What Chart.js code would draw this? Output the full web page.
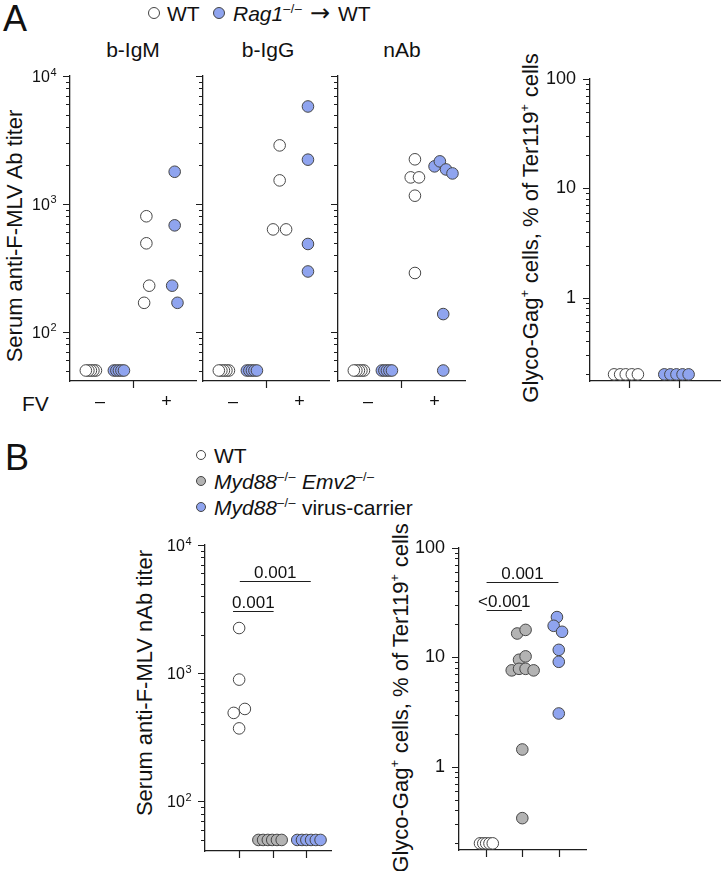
<!DOCTYPE html>
<html lang="en">
<head>
<meta charset="UTF-8">
<title>Anti-F-MLV antibody titres and Glyco-Gag+ cells</title>
<script src="https://cdn.jsdelivr.net/npm/chart.js"></script>
<style>
  body { margin:0; width:721px; height:871px; overflow:hidden; background:#fff; position:relative;
         font-family:"Liberation Sans", Arial, Helvetica, sans-serif; color:#111; }
  canvas { position:absolute; }
  .t { position:absolute; line-height:1; white-space:nowrap; font-size:21px; }
  .c { transform:translateX(-50%); }
  .rot { position:absolute; line-height:1; white-space:nowrap; font-size:22px;
         transform:translate(-50%,-50%) rotate(-90deg); }
  sup { font-size:0.6em; line-height:0; vertical-align:0.65em; letter-spacing:0.5px; }
  .arrow { font-family:"DejaVu Sans", sans-serif; font-size:24px; line-height:0; margin:0 2px; }
  .dot { position:absolute; border-radius:50%; border:1px solid #444; box-sizing:border-box; }
</style>
</head>
<body>

<div class="t" style="left:3px;top:1px;font-size:36px">A</div>
<div class="t" style="left:5px;top:440px;font-size:36px">B</div>

<!-- legend A -->
<div class="dot" style="left:148px;top:7px;width:12px;height:12px;background:#fff"></div>
<div class="t" style="left:167px;top:3px">WT</div>
<div class="dot" style="left:213px;top:7px;width:12px;height:12px;background:#8fa4ef"></div>
<div class="t" style="left:233px;top:3px"><i>Rag1</i><sup>–/–</sup> <span class="arrow">→</span> WT</div>

<div class="t c" style="left:133px;top:39px">b-IgM</div>
<div class="t c" style="left:268px;top:39px">b-IgG</div>
<div class="t c" style="left:402px;top:39px">nAb</div>
<div class="t" style="left:22px;top:393px">FV</div>

<div class="rot" style="left:15px;top:236px">Serum anti-F-MLV Ab titer</div>
<div class="rot" style="left:531px;top:228px">Glyco-Gag<sup>+</sup> cells, % of Ter119<sup>+</sup> cells</div>

<!-- legend B -->
<div class="dot" style="left:196px;top:450px;width:10px;height:10px;background:#fff"></div>
<div class="t" style="left:214px;top:445px">WT</div>
<div class="dot" style="left:196px;top:476px;width:10px;height:10px;background:#b3b3b3"></div>
<div class="t" style="left:214px;top:471px"><i>Myd88</i><sup>–/–</sup> <i>Emv2</i><sup>–/–</sup></div>
<div class="dot" style="left:196px;top:502px;width:10px;height:10px;background:#8fa4ef"></div>
<div class="t" style="left:214px;top:497px"><i>Myd88</i><sup>–/–</sup> virus-carrier</div>

<div class="rot" style="left:145px;top:683px">Serum anti-F-MLV nAb titer</div>
<div class="rot" style="left:401px;top:698px">Glyco-Gag<sup>+</sup> cells, % of Ter119<sup>+</sup> cells</div>

<canvas id="a1"></canvas>
<canvas id="a2"></canvas>
<canvas id="a3"></canvas>
<canvas id="a4"></canvas>
<canvas id="b1"></canvas>
<canvas id="b2"></canvas>

<script>
const FONT = '"Liberation Sans", Arial, Helvetica, sans-serif';
const WHITE = '#ffffff', BLUE = '#8fa4ef', GRAY = '#b3b3b3', EDGE = '#464646', AXIS = '#1e1e1e';

// axis ticks / labels
const titerTicks = [100, 1000, 10000];
const titerExps = ['2', '3', '4'];   // drawn as 10^n
const pctTicks = [1, 10, 100];
const pctLabels = ['1', '10', '100'];
const fvLabelPos = [1.33, 3.7];
const fvLabels = ['–', '+'];

// Panel A groups: 1 = WT FV–, 2 = Rag1 FV–, 3 = WT FV+, 4 = Rag1 FV+
// jitter = horizontal offset of each dot from its group centre
const negWtJit = [0.18, 0.09, 0, -0.09, -0.18];
const negRagJit = [-0.18, -0.09, 0, 0.09, 0.18];

// b-IgM
const igmWtNeg = [50, 50, 50, 50, 50];
const igmRagNeg = [50, 50, 50, 50, 50];
const igmWtPos = [802, 493, 230, 169];
const igmWtPosJit = [-0.02, -0.02, 0.08, -0.1];
const igmRagPos = [1786, 681, 230, 169];
const igmRagPosJit = [-0.01, -0.01, -0.1, 0.09];

// b-IgG
const iggWtNeg = [50, 50, 50, 50, 50];
const iggRagNeg = [50, 50, 50, 50, 50];
const iggWtPos = [2870, 1529, 633, 633];
const iggWtPosJit = [-0.01, -0.01, -0.245, 0.22];
const iggRagPos = [5780, 2220, 487, 297];
const iggRagPosJit = [0, 0, 0, 0];

// nAb
const nabWtNeg = [50, 50, 50, 50, 50];
const nabRagNeg = [50, 50, 50, 50, 50];
const nabWtPos = [2234, 1614, 1614, 1161, 289];
const nabWtPosJit = [0, -0.15, 0.145, 0, 0];
const nabRagPos = [1968, 2153, 1862, 1733, 138, 50];
const nabRagPosJit = [-0.3, -0.11, 0.11, 0.34, 0.01, 0.01];

// Glyco-Gag+ (panel A), groups 1 = WT, 2 = Rag1
const glyWt = [0.2, 0.2, 0.2, 0.2, 0.2];
const glyWtJit = [-0.29, -0.17, -0.06, 0.06, 0.18];
const glyRag = [0.2, 0.2, 0.2, 0.2, 0.2];
const glyRagJit = [-0.3, -0.18, -0.06, 0.06, 0.18];

// Panel B groups: 1 = WT, 2 = Myd88 Emv2, 3 = Myd88 virus-carrier
const bNabWt = [2250, 891, 526, 490, 371];
const bNabWtJit = [0.01, 0.01, 0.18, -0.15, 0.01];
const bNabEmv = [50, 50, 50, 50, 50, 50];
const bNabEmvJit = [-0.42, -0.28, -0.14, -0.01, 0.13, 0.27];
const bNabCar = [50, 50, 50, 50, 50, 50];
const bNabCarJit = [-0.27, -0.13, 0, 0.14, 0.28, 0.42];
const bNabP = [
  { from: 0.83, to: 2.03, y: 3050, text: '0.001' },
  { from: 1.03, to: 3.13, y: 5260, text: '0.001' }
];

const bGlyWt = [0.2, 0.2, 0.2, 0.2, 0.2];
const bGlyWtJit = [-0.16, -0.07, 0.01, 0.1, 0.19];
const bGlyEmv = [16.5, 17.8, 9.5, 10.2, 7.6, 7.85, 7.85, 7.6, 1.44, 0.34];
const bGlyEmvJit = [-0.14, 0.09, -0.09, 0.09, -0.29, -0.09, 0.09, 0.31, 0, 0];
const bGlyCar = [23.3, 19.4, 17.1, 11.7, 9.1, 3.07];
const bGlyCarJit = [-0.05, -0.14, 0.09, 0, 0, 0];
const bGlyP = [
  { from: 1.02, to: 1.99, y: 26.8, text: '<0.001' },
  { from: 1.02, to: 2.99, y: 48.7, text: '0.001' }
];

// tick marks (major / minor log ticks, x ticks), 10^n labels and p-value brackets
const axisMarks = {
  id: 'axisMarks',
  afterDraw(chart, args, opts) {
    const { ctx } = chart;
    const x = chart.scales.x, y = chart.scales.y;
    const left = chart.chartArea.left, bottom = chart.chartArea.bottom;
    ctx.save();
    ctx.strokeStyle = AXIS;
    ctx.lineWidth = 1.2;
    ctx.beginPath();
    for (let d = Math.floor(Math.log10(y.min)); d <= Math.ceil(Math.log10(y.max)); d++) {
      for (let m = 1; m <= 9; m++) {
        const v = m * Math.pow(10, d);
        if (v < y.min * 0.999 || v > y.max * 1.001) continue;
        const py = Math.round(y.getPixelForValue(v)) + 0.5;
        ctx.moveTo(left, py);
        ctx.lineTo(left - (m === 1 ? 7 : 4), py);
      }
    }
    (opts.xTicks || []).forEach(v => {
      const px = Math.round(x.getPixelForValue(v)) + 0.5;
      ctx.moveTo(px, bottom);
      ctx.lineTo(px, bottom + 7);
    });
    ctx.stroke();

    ctx.fillStyle = '#111';
    ctx.textBaseline = 'alphabetic';

    // power-of-ten labels with a real superscript
    if (opts.powers) {
      ctx.textAlign = 'left';
      opts.powers.ticks.forEach((v, i) => {
        const py = y.getPixelForValue(v);
        ctx.font = '16px ' + FONT;
        const wBase = ctx.measureText('10').width;
        ctx.font = '11px ' + FONT;
        const wExp = ctx.measureText(opts.powers.exps[i]).width;
        const x0 = left - 14 - wBase - wExp;
        ctx.font = '16px ' + FONT;
        ctx.fillText('10', x0, py + 5.8);
        ctx.font = '11px ' + FONT;
        ctx.fillText(opts.powers.exps[i], x0 + wBase + 0.5, py - 0.5);
      });
    }

    ctx.font = '17px ' + FONT;
    ctx.textAlign = 'center';
    (opts.brackets || []).forEach(b => {
      const x0 = x.getPixelForValue(b.from), x1 = x.getPixelForValue(b.to);
      const py = Math.round(y.getPixelForValue(b.y)) + 0.5;
      ctx.beginPath();
      ctx.moveTo(x0, py);
      ctx.lineTo(x1, py);
      ctx.stroke();
      ctx.fillText(b.text, (x0 + x1) / 2, py - 4);
    });
    ctx.restore();
  }
};
Chart.register(axisMarks);

function series(group, values, jit, color) {
  return { data: values.map((v, i) => ({ x: group + jit[i], y: v })), color };
}

function dotChart(id, area, cfg) {
  const padT = 22, padR = 6, yW = 72, xH = 44;
  const w = area.r - area.l + yW + padR;
  const h = area.b - area.t + padT + xH;
  const cv = document.getElementById(id);
  cv.width = w; cv.height = h;
  cv.style.width = w + 'px'; cv.style.height = h + 'px';
  cv.style.left = (area.l - yW) + 'px';
  cv.style.top = (area.t - padT) + 'px';
  const xPos = cfg.xLabelPos || cfg.xTicks;
  return new Chart(cv, {
    type: 'scatter',
    data: {
      datasets: cfg.series.map(s => ({
        data: s.data,
        pointRadius: 5.8,
        pointHoverRadius: 5.8,
        pointBackgroundColor: s.color,
        pointBorderColor: EDGE,
        pointBorderWidth: 1,
        clip: false
      }))
    },
    options: {
      responsive: false,
      animation: false,
      events: [],
      layout: { padding: { top: padT, right: padR, left: 0, bottom: 0 } },
      plugins: {
        legend: { display: false },
        tooltip: { enabled: false },
        axisMarks: { xTicks: cfg.xTicks, brackets: cfg.brackets || [], powers: cfg.powers || null }
      },
      scales: {
        x: {
          type: 'linear', min: cfg.xMin, max: cfg.xMax, bounds: 'data',
          grid: { display: false, drawTicks: false },
          border: { color: AXIS, width: 1.3 },
          afterFit: s => { s.height = xH; },
          afterBuildTicks: s => { s.ticks = xPos.map(v => ({ value: v })); },
          ticks: {
            display: !!cfg.xLabels, autoSkip: false, maxRotation: 0, padding: 10,
            font: { family: FONT, size: 18 }, color: '#111',
            callback: (v, i) => cfg.xLabels ? cfg.xLabels[i] : ''
          }
        },
        y: {
          type: 'logarithmic', min: cfg.yMin, max: cfg.yMax, bounds: 'data',
          grid: { display: false, drawTicks: false },
          border: { color: AXIS, width: 1.3 },
          afterFit: s => { s.width = yW; },
          afterBuildTicks: s => { s.ticks = cfg.yTicks.map(v => ({ value: v })); },
          ticks: {
            display: !!cfg.yLabels, autoSkip: false, padding: 14,
            font: { family: FONT, size: 18 }, color: '#111',
            callback: (v, i) => cfg.yLabels ? cfg.yLabels[i] : ''
          }
        }
      }
    }
  });
}

const titerA = { xMin: 0.255, xMax: 4.758, yMin: 41.4, yMax: 10000, yTicks: titerTicks,
                 xTicks: [2.5], xLabelPos: fvLabelPos, xLabels: fvLabels };

dotChart('a1', { l: 70, r: 197, t: 76, b: 381 }, Object.assign({}, titerA, {
  powers: { ticks: titerTicks, exps: titerExps },
  series: [
    series(1, igmWtNeg, negWtJit, WHITE), series(2, igmRagNeg, negRagJit, BLUE),
    series(3, igmWtPos, igmWtPosJit, WHITE), series(4, igmRagPos, igmRagPosJit, BLUE)
  ]
}));

dotChart('a2', { l: 203, r: 330, t: 76, b: 381 }, Object.assign({}, titerA, {
  series: [
    series(1, iggWtNeg, negWtJit, WHITE), series(2, iggRagNeg, negRagJit, BLUE),
    series(3, iggWtPos, iggWtPosJit, WHITE), series(4, iggRagPos, iggRagPosJit, BLUE)
  ]
}));

dotChart('a3', { l: 338, r: 466, t: 76, b: 381 }, Object.assign({}, titerA, {
  xMax: 4.794,
  series: [
    series(1, nabWtNeg, negWtJit, WHITE), series(2, nabRagNeg, negRagJit, BLUE),
    series(3, nabWtPos, nabWtPosJit, WHITE), series(4, nabRagPos, nabRagPosJit, BLUE)
  ]
}));

dotChart('a4', { l: 590, r: 724, t: 76, b: 381 }, {
  xMin: 0.235, xMax: 2.862, yMin: 0.174, yMax: 100, yTicks: pctTicks, yLabels: pctLabels,
  xTicks: [1, 2],
  series: [series(1, glyWt, glyWtJit, WHITE), series(2, glyRag, glyRagJit, BLUE)]
});

dotChart('b1', { l: 205, r: 332, t: 545, b: 851 }, {
  xMin: 0, xMax: 3.735, yMin: 41, yMax: 10000, yTicks: titerTicks,
  powers: { ticks: titerTicks, exps: titerExps },
  xTicks: [1, 2, 3], brackets: bNabP,
  series: [
    series(1, bNabWt, bNabWtJit, WHITE), series(2, bNabEmv, bNabEmvJit, GRAY),
    series(3, bNabCar, bNabCarJit, BLUE)
  ]
});

dotChart('b2', { l: 459, r: 587, t: 545, b: 850 }, {
  xMin: 0.264, xMax: 3.752, yMin: 0.174, yMax: 100, yTicks: pctTicks, yLabels: pctLabels,
  xTicks: [1, 2, 3], brackets: bGlyP,
  series: [
    series(1, bGlyWt, bGlyWtJit, WHITE), series(2, bGlyEmv, bGlyEmvJit, GRAY),
    series(3, bGlyCar, bGlyCarJit, BLUE)
  ]
});
</script>
</body>
</html>
